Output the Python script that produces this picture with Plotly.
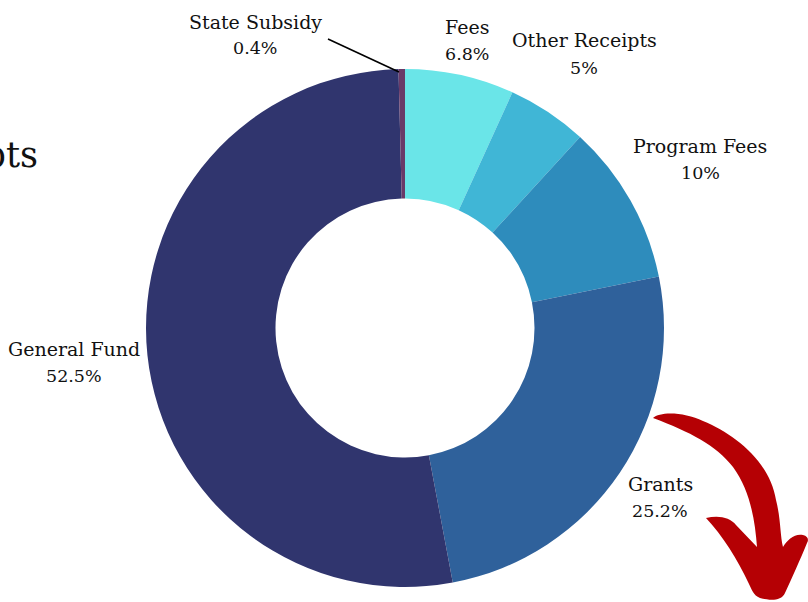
import plotly.graph_objects as go

W, H = 808, 602

labels = ["Fees", "Other Receipts", "Program Fees", "Grants", "General Fund", "State Subsidy"]
values = [6.8, 5, 10, 25.2, 52.5, 0.4]
percent_text = ["6.8%", "5%", "10%", "25.2%", "52.5%", "0.4%"]
colors = ["#6AE5E8", "#40B6D6", "#2E8CBC", "#2F619B", "#30356E", "#693A68"]
title_text = "Receipts"

FONT = "DejaVu Serif"
TEXT_COLOR = "#111111"

# label centres in pixels: x, y of name line, y of value line
label_pos = [(467, 27, 54), (584, 40, 68), (700, 146, 173),
             (660, 484, 511), (74, 349, 376), (255, 22, 48)]


def px(x):
    return x / W


def py(y):
    return 1 - y / H


annotations = []
for name, pct, (x, y1, y2) in zip(labels, percent_text, label_pos):
    for txt, y, size in ((name, y1, 19), (pct, y2, 17.5)):
        annotations.append(dict(text=txt, x=px(x), y=py(y), xref="paper", yref="paper",
                                xanchor="center", yanchor="middle", showarrow=False,
                                font=dict(family=FONT, size=size, color=TEXT_COLOR)))
annotations.append(dict(text=title_text, x=px(40), y=py(155), xref="paper", yref="paper",
                        xanchor="right", yanchor="middle", showarrow=False,
                        font=dict(family=FONT, size=35, color=TEXT_COLOR)))

fig = go.Figure(go.Pie(
    labels=labels, values=values, sort=False, direction="clockwise", rotation=0,
    hole=0.5, textinfo="none", hoverinfo="label+percent",
    marker=dict(colors=colors, line=dict(width=0)),
    domain=dict(x=[px(146), px(664)], y=[py(587), py(69)]),
    showlegend=False,
))

# decorative hand-drawn arrow outline, in pixels
arrow = [
    ("M", (653, 418)),
    ("C", (660, 411), (685, 412), (703, 421)),
    ("C", (735, 434), (770, 462), (776, 500)),
    ("C", (781, 520), (780, 535), (783, 547)),
    ("C", (787, 540), (795, 533), (803, 535)),
    ("C", (808, 536), (809, 540), (807, 543)),
    ("C", (800, 560), (792, 578), (785, 593)),
    ("C", (781, 602), (768, 600), (760, 598)),
    ("C", (753, 595), (752, 590), (749, 584)),
    ("C", (738, 560), (722, 535), (706, 518)),
    ("C", (718, 515), (730, 517), (736, 525)),
    ("L", (757, 547)),
    ("C", (755, 520), (750, 490), (733, 467)),
    ("C", (716, 445), (690, 432), (653, 418)),
]
path = ""
for cmd, *pts in arrow:
    path += cmd + " " + " ".join(f"{px(x):.5f},{py(y):.5f}" for x, y in pts) + " "
path += "Z"

shapes = [
    dict(type="path", path=path, xref="paper", yref="paper",
         fillcolor="#B50004", line=dict(width=0), layer="above"),
    dict(type="line", x0=px(328), y0=py(39), x1=px(399), y1=py(72),
         xref="paper", yref="paper", line=dict(color="#000000", width=1.6), layer="above"),
]

fig.update_layout(width=W, height=H, margin=dict(l=0, r=0, t=0, b=0),
                  paper_bgcolor="#ffffff", plot_bgcolor="#ffffff",
                  annotations=annotations, shapes=shapes, showlegend=False)
fig.write_html("out.html", config={"displayModeBar": False},
               post_script="document.body.style.margin='0';")
